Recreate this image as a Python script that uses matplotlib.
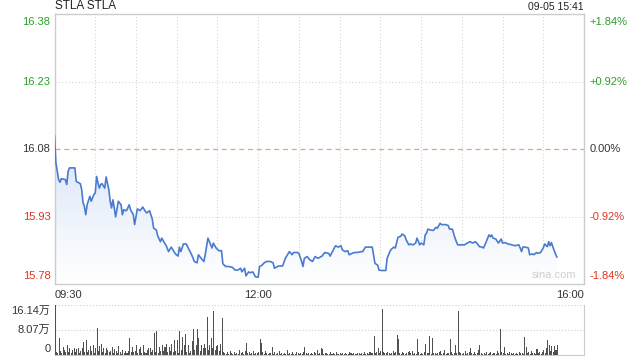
import numpy as np
import matplotlib.pyplot as plt
from matplotlib.colors import LinearSegmentedColormap

plt.rcParams['font.family'] = ['Liberation Sans', 'Noto Sans CJK SC', 'DejaVu Sans']

# minutes since 09:30 and price
minutes = [0, 1, 3, 4, 5, 8, 9, 10, 11, 15, 16, 19, 20, 21, 22, 23, 24, 26, 27, 29,
           30, 31, 32, 33, 34, 35, 37, 38, 40, 41, 42, 43, 44, 45, 47, 49, 50, 51, 53, 55,
           56, 58, 59, 61, 63, 65, 67, 68, 70, 72, 73, 75, 76, 78, 79, 81, 82, 84, 86, 87,
           89, 91, 92, 93, 95, 97, 99, 101, 103, 105, 106, 108, 110, 111, 113, 115, 116, 117, 119, 121,
           123, 124, 126, 128, 131, 133, 135, 137, 138, 140, 141, 143, 144, 146, 148, 150, 151, 153, 154, 156,
           159, 161, 162, 165, 168, 170, 171, 173, 175, 176, 179, 180, 182, 183, 184, 186, 188, 190, 192, 194,
           197, 199, 202, 203, 205, 207, 209, 211, 212, 214, 216, 217, 219, 221, 223, 226, 227, 229, 232, 234,
           235, 236, 238, 239, 241, 244, 245, 247, 248, 250, 251, 253, 255, 256, 258, 259, 261, 262, 264, 266,
           267, 269, 270, 272, 273, 274, 275, 277, 279, 281, 282, 284, 285, 288, 290, 291, 293, 295, 296, 297,
           300, 302, 304, 306, 308, 310, 311, 313, 315, 316, 318, 320, 321, 322, 323, 325, 327, 329, 330, 332,
           334, 337, 339, 342, 343, 344, 345, 347, 349, 350, 352, 353, 355, 356, 358, 360, 361, 363, 364, 365,
           366, 367, 369, 370]
price = [16.109, 16.050, 16.012, 16.006, 16.014, 16.012, 16.001, 16.030, 16.038, 16.038, 16.008, 16.003, 15.990, 15.961, 15.952, 15.934, 15.956, 15.975, 15.964, 15.979,
         15.982, 16.019, 16.005, 15.993, 16.001, 16.003, 15.993, 16.018, 15.990, 15.964, 15.949, 15.967, 15.949, 15.929, 15.964, 15.956, 15.934, 15.945, 15.943, 15.956,
         15.945, 15.934, 15.912, 15.947, 15.943, 15.951, 15.941, 15.938, 15.943, 15.924, 15.904, 15.900, 15.887, 15.874, 15.882, 15.871, 15.867, 15.852, 15.862, 15.857,
         15.847, 15.842, 15.862, 15.852, 15.869, 15.869, 15.857, 15.845, 15.830, 15.827, 15.845, 15.837, 15.830, 15.845, 15.882, 15.867, 15.860, 15.871, 15.860, 15.854,
         15.854, 15.825, 15.819, 15.819, 15.817, 15.811, 15.811, 15.815, 15.807, 15.815, 15.798, 15.807, 15.805, 15.807, 15.796, 15.795, 15.819, 15.822, 15.826, 15.830,
         15.830, 15.827, 15.815, 15.820, 15.820, 15.837, 15.842, 15.852, 15.845, 15.850, 15.850, 15.848, 15.830, 15.819, 15.837, 15.841, 15.834, 15.830, 15.841, 15.837,
         15.842, 15.850, 15.848, 15.842, 15.854, 15.865, 15.862, 15.865, 15.856, 15.852, 15.854, 15.845, 15.848, 15.850, 15.850, 15.852, 15.852, 15.862, 15.862, 15.862,
         15.845, 15.826, 15.822, 15.811, 15.810, 15.810, 15.837, 15.852, 15.857, 15.862, 15.860, 15.884, 15.886, 15.891, 15.887, 15.878, 15.867, 15.869, 15.867, 15.871,
         15.882, 15.867, 15.871, 15.867, 15.889, 15.893, 15.902, 15.900, 15.899, 15.906, 15.904, 15.915, 15.912, 15.912, 15.910, 15.902, 15.902, 15.882, 15.874, 15.867,
         15.867, 15.867, 15.871, 15.874, 15.871, 15.874, 15.871, 15.863, 15.862, 15.860, 15.874, 15.889, 15.885, 15.889, 15.882, 15.880, 15.871, 15.880, 15.871, 15.872,
         15.869, 15.867, 15.865, 15.867, 15.860, 15.852, 15.862, 15.862, 15.860, 15.845, 15.847, 15.845, 15.850, 15.848, 15.850, 15.860, 15.869, 15.863, 15.874, 15.865,
         15.872, 15.863, 15.847, 15.840]

# volume per minute, in 万 shares
volume = [16.1, 1.0, 0.6, 5.4, 1.2, 0.8, 2.7, 1.5, 0.9, 3.2,
          1.1, 2.2, 0.7, 1.6, 2.3, 0.9, 1.8, 2.4, 0.8, 1.3,
          2.2, 4.3, 1.0, 4.8, 0.9, 1.7, 2.8, 1.2, 3.3, 0.8,
          2.2, 8.6, 1.4, 2.9, 3.4, 1.0, 2.2, 0.7, 2.4, 1.6,
          0.9, 1.3, 2.7, 0.8, 1.8, 1.2, 0.6, 2.9, 1.1, 0.4,
          1.7, 0.8, 1.4, 0.5, 1.2, 5.4, 0.9, 2.7, 1.0, 1.3,
          3.2, 0.7, 1.9, 2.7, 0.8, 3.2, 1.1, 0.5, 1.6, 2.2,
          2.4, 0.9, 1.5, 7.0, 1.1, 7.8, 0.8, 2.7, 1.3, 3.2,
          1.2, 2.6, 3.5, 0.9, 2.7, 1.4, 3.7, 1.0, 4.8, 1.2,
          4.8, 0.6, 7.9, 1.5, 5.9, 3.2, 6.7, 1.1, 3.2, 0.6,
          1.3, 4.6, 8.4, 1.5, 3.2, 8.4, 5.4, 1.3, 3.2, 2.1,
          3.4, 2.3, 12.4, 1.6, 3.2, 5.4, 2.1, 14.2, 1.7, 2.8,
          3.2, 1.2, 3.6, 11.8, 1.1, 0.8, 0.4, 0.9, 0.3, 1.2,
          0.5, 0.3, 1.1, 0.4, 0.8, 0.2, 1.5, 0.6, 0.9, 0.3,
          1.2, 3.8, 0.5, 0.9, 0.4, 0.7, 1.4, 0.3, 0.8, 0.6,
          1.0, 5.2, 3.8, 0.9, 0.4, 1.3, 0.6, 0.3, 0.8, 0.5,
          2.7, 0.4, 0.9, 0.3, 0.6, 1.2, 0.3, 0.5, 0.2, 0.7,
          0.4, 1.5, 0.3, 0.6, 0.2, 0.9, 0.4, 0.3, 1.1, 0.5,
          0.3, 0.7, 0.4, 1.0, 2.7, 0.5, 0.3, 0.8, 0.4, 0.6,
          0.2, 0.9, 0.5, 1.6, 0.4, 0.6, 2.2, 1.8, 0.3, 0.5,
          0.7, 0.3, 0.4, 0.9, 0.2, 0.6, 0.3, 1.0, 0.4, 0.2,
          0.5, 0.3, 0.8, 0.2, 0.6, 0.4, 0.3, 0.9, 0.5, 0.2,
          0.6, 0.4, 0.3, 0.8, 0.5, 0.2, 0.7, 0.4, 0.9, 0.3,
          0.5, 0.4, 1.1, 0.6, 0.8, 6.1, 0.5, 0.9, 2.2, 0.6,
          1.4, 14.7, 1.0, 0.8, 0.5, 0.9, 0.6, 0.4, 0.8, 1.3,
          0.6, 1.0, 6.5, 5.2, 0.8, 0.4, 1.1, 0.6, 0.3, 0.7,
          0.9, 1.2, 0.5, 1.4, 0.4, 0.8, 0.3, 5.2, 1.0, 0.3,
          0.6, 0.4, 0.9, 3.4, 0.5, 0.7, 6.1, 0.4, 5.4, 0.6,
          0.8, 0.3, 0.5, 0.9, 1.2, 0.4, 0.6, 1.5, 0.3, 0.7,
          0.5, 5.2, 1.1, 0.4, 0.8, 3.2, 0.6, 14.2, 0.9, 0.5,
          0.3, 0.7, 1.2, 0.4, 0.6, 0.9, 2.2, 0.5, 0.3, 1.0,
          0.4, 0.8, 1.6, 3.2, 0.5, 0.3, 0.7, 0.4, 0.9, 0.3,
          0.6, 1.0, 0.4, 0.8, 0.5, 0.3, 1.2, 0.6, 8.4, 0.9,
          0.5, 2.7, 0.4, 0.7, 0.3, 0.9, 0.5, 0.3, 0.8, 0.4,
          0.6, 0.3, 1.1, 0.5, 0.8, 0.4, 5.8, 2.7, 0.6, 0.9,
          0.3, 1.2, 0.5, 0.8, 0.4, 2.0, 0.6, 1.1, 0.3, 0.9,
          1.5, 0.7, 2.4, 4.7, 3.2, 1.4, 2.8, 0.9, 3.0, 1.6, 3.2]

price_ticks = [16.38, 16.23, 16.08, 15.93, 15.78]
pct_labels = ['+1.84%', '+0.92%', '0.00%', '-0.92%', '-1.84%']
time_ticks = [0, 150, 390]
time_labels = ['09:30', '12:00', '16:00']
vol_ticks = [16.14, 8.07, 0]
vol_labels = ['16.14万', '8.07万', '0']
prev_close = 16.08

green = '#2aa02a'
red = '#e8321e'
dark = '#333333'
grid_c = '#d5d5d5'
border_c = '#cccccc'

fig = plt.figure(figsize=(6.4, 3.6), dpi=100)
ax = fig.add_axes([0.0852, 0.2111, 0.8273, 0.75])
axv = fig.add_axes([0.0852, 0.0139, 0.8273, 0.1389])

ax.set_xlim(0, 390)
ax.set_ylim(price_ticks[-1], price_ticks[0])
ax.set_xticks([])
ax.set_yticks([])
for s in ax.spines.values():
    s.set_color(border_c)
    s.set_linewidth(1)

for t in range(30, 390, 30):
    ax.axvline(t, color=grid_c, lw=0.8, ls=(0, (1, 2)), zorder=1)
for p in price_ticks[1:-1]:
    if p == prev_close:
        ax.axhline(p, color='#f0a068', lw=0.9, ls=(0, (4, 3)), zorder=1)
    else:
        ax.axhline(p, color=grid_c, lw=0.8, ls=(0, (1, 2)), zorder=1)

# gradient fill under the line
cmap = LinearSegmentedColormap.from_list('fill', ['#ffffff', '#d9e5f8'])
poly = ax.fill_between(minutes, price, price_ticks[-1], color='none', lw=0)
grad = np.linspace(0, 1, 100).reshape(-1, 1)
im = ax.imshow(grad, cmap=cmap, aspect='auto', origin='lower',
               extent=[0, 390, price_ticks[-1], max(price)], zorder=2)
im.set_clip_path(poly.get_paths()[0], transform=ax.transData)
ax.plot(minutes, price, color='#4a7bd0', lw=1.2, zorder=3)

# tick labels
n = len(price_ticks)
for i, (p, lab) in enumerate(zip(price_ticks, pct_labels)):
    c = green if p > prev_close else (red if p < prev_close else dark)
    va = 'top' if i == 0 else ('bottom' if i == n - 1 else 'center')
    off = -2 if i == 0 else (2 if i == n - 1 else 0)
    ax.annotate(f'{p:.2f}', (0, p), xytext=(-3, off), textcoords='offset points',
                ha='right', va=va, color=c, fontsize=8, annotation_clip=False)
    ax.annotate(lab, (390, p), xytext=(4, off), textcoords='offset points',
                ha='left', va=va, color=c, fontsize=8, annotation_clip=False)

ax.text(0, 1.006, 'STLA STLA', transform=ax.transAxes, ha='left', va='bottom',
        fontsize=8.5, color='#222222')
ax.text(1, 1.006, '09-05 15:41', transform=ax.transAxes, ha='right', va='bottom',
        fontsize=7.5, color='#222222')
ax.text(0.985, 0.015, 'sina.com', transform=ax.transAxes, ha='right', va='bottom',
        fontsize=8, color='#cfcfcf')

for t, lab, ha in zip(time_ticks, time_labels, ['left', 'center', 'right']):
    ax.annotate(lab, (t, price_ticks[-1]), xytext=(0, -4), textcoords='offset points',
                ha=ha, va='top', fontsize=8, color=dark, annotation_clip=False)

# volume panel
axv.set_xlim(0, 390)
axv.set_ylim(0, vol_ticks[0])
axv.bar(np.arange(len(volume)), volume, width=0.75, color='#505050', align='edge', zorder=3)
axv.set_xticks([])
axv.set_yticks([])
axv.spines['top'].set_visible(False)
for k in ['left', 'right', 'bottom']:
    axv.spines[k].set_color(border_c)
for v in vol_ticks[:-1]:
    axv.axhline(v, color=grid_c, lw=0.9, ls=(0, (1, 1.5)), zorder=1)
for i, (v, lab) in enumerate(zip(vol_ticks, vol_labels)):
    va = 'top' if i == 0 else ('bottom' if i == len(vol_ticks) - 1 else 'center')
    off = -1 if i == 0 else (1 if i == len(vol_ticks) - 1 else 0)
    axv.annotate(lab, (0, v), xytext=(-3, off), textcoords='offset points',
                 ha='right', va=va, color=dark, fontsize=8, annotation_clip=False)

fig.savefig('out.png', dpi=100)
